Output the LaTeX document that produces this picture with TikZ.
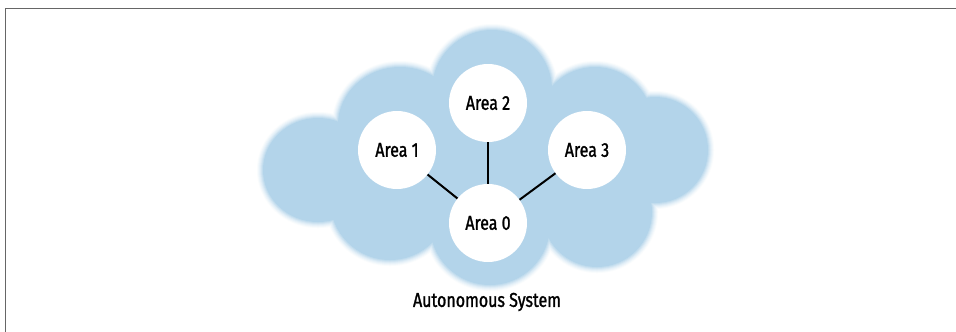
\documentclass[tikz,border=0pt]{standalone}
\usepackage{fontspec}
\setmainfont{Fira Sans}[FakeStretch=0.8, FakeBold=1.3]
\definecolor{cloudblue}{HTML}{B3D4EA}
\definecolor{framegray}{HTML}{666666}
% one layer of the cloud, every lobe filled on its own, grown by #1, in colour #2
\newcommand\cloudlayer[2]{%
  \fill[#2] (318,170) ellipse[x radius={55pt+#1}, y radius={52pt+#1}];
  \fill[#2] (400,125) ellipse[x radius={62pt+#1}, y radius={58pt+#1}];
  \fill[#2] (492,90) circle[radius={60pt+#1}];
  \fill[#2] (595,125) circle[radius={58pt+#1}];
  \fill[#2] (655,150) circle[radius={53pt+#1}];
  \fill[#2] (597,212) circle[radius={55pt+#1}];
  \fill[#2] (490,225) circle[radius={60pt+#1}];
  \fill[#2] (390,200) circle[radius={60pt+#1}];
  \fill[#2] (490,165) ellipse[x radius={160pt+#1}, y radius={75pt+#1}];}
\tikzset{
  area/.style={circle, fill=white, minimum size=78pt, inner sep=0pt, font=\fontsize{20}{24}\selectfont},
  link/.style={line width=2pt, black},
  caption/.style={font=\fontsize{20}{24}\selectfont}
}
\begin{document}
\begin{tikzpicture}[x=1pt,y=-1pt]
\useasboundingbox (0,0) rectangle (956,332);
\fill[white] (0,0) rectangle (956,332);
% frame
\draw[framegray, line width=1.6pt] (5.5,332) -- (5.5,8.5) -- (956,8.5);
% cloud with soft edge (blur only outside the lobes)
\cloudlayer{6pt}{cloudblue!8}
\cloudlayer{5pt}{cloudblue!18}
\cloudlayer{4pt}{cloudblue!30}
\cloudlayer{3pt}{cloudblue!45}
\cloudlayer{2pt}{cloudblue!62}
\cloudlayer{1pt}{cloudblue!80}
\cloudlayer{0pt}{cloudblue}
% areas
\node[area] (a2) at (488,103) {Area 2};
\node[area] (a1) at (397,150) {Area 1};
\node[area] (a3) at (587,150) {Area 3};
\node[area] (a0) at (488,223) {Area 0};
\draw[link] (a0) -- (a1);
\draw[link] (a0) -- (a2);
\draw[link] (a0) -- (a3);
\node[caption] (as) at (487,302) {Autonomous System};
\end{tikzpicture}
\end{document}
